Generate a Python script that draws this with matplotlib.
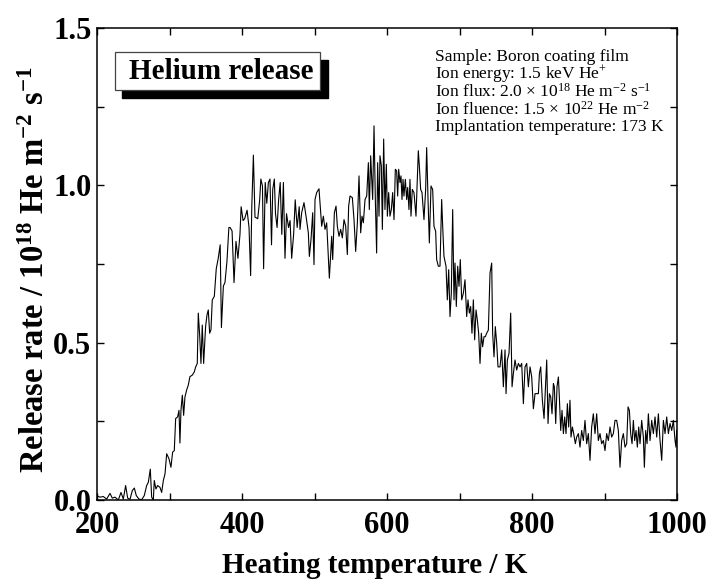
import matplotlib
matplotlib.use("Agg")
import matplotlib.pyplot as plt
import matplotlib.patches as patches
from matplotlib.ticker import MultipleLocator

plt.rcParams['font.family'] = ['Liberation Serif', 'DejaVu Serif']
plt.rcParams['mathtext.default'] = 'regular'

# --- data (heating temperature K, release rate 1e18 He m-2 s-1) ---
temp_low = [199.5, 204.1, 208.7, 213.3, 217.9, 221.1, 224.8, 229.4, 233.1, 236.3,
            239.5, 242.3, 245.5, 248.7, 251.5, 254.2, 257.9, 261.6, 265.2, 268.5,
            270.8, 273.5, 275.4, 277.7, 279.0, 281.3, 283.6, 286.9, 289.2, 291.5,
            293.8, 296.1, 299.3, 302.0, 304.3, 306.6, 308.5, 311.2, 313.1, 314.4,
            315.8, 317.7, 319.5, 321.3, 323.6, 325.9, 328.2, 331.5, 334.2, 336.1,
            338.3, 339.7, 341.6, 343.4, 345.2, 347.1, 349.8, 351.7, 353.5, 355.4,
            357.2, 359.0]
rate_low = [0.014, 0.009, 0.011, 0.003, 0.021, 0.006, 0.009, 0.000, 0.024, 0.003,
            0.046, 0.006, 0.002, 0.030, 0.038, 0.014, 0.003, 0.001, 0.014, 0.046,
            0.056, 0.098, 0.009, 0.000, 0.062, 0.035, 0.046, 0.040, 0.024, 0.062,
            0.083, 0.147, 0.131, 0.104, 0.152, 0.157, 0.259, 0.264, 0.285, 0.181,
            0.285, 0.333, 0.269, 0.327, 0.349, 0.365, 0.392, 0.397, 0.407, 0.423,
            0.434, 0.594, 0.524, 0.434, 0.556, 0.434, 0.551, 0.588, 0.604, 0.530,
            0.541, 0.636]

temp_rise = [361.8, 364.5, 367.2, 369.9, 371.6, 374.3, 376.5, 379.2, 381.9, 383.6,
             386.3, 389.0, 391.7, 394.4, 397.2, 398.8, 401.5, 403.7, 407.0, 409.7,
             411.9, 413.5, 415.7, 417.9, 421.7, 424.4, 426.0, 428.2, 429.8, 432.0,
             434.2, 436.4, 438.6, 440.7, 442.4, 444.6, 446.2, 448.4, 450.5, 452.7,
             454.9, 457.1, 459.3, 461.4, 464.2, 466.3, 468.5, 471.2, 473.4, 476.1,
             478.9]
rate_rise = [0.647, 0.735, 0.768, 0.811, 0.548, 0.680, 0.691, 0.757, 0.866, 0.866,
             0.855, 0.691, 0.822, 0.768, 0.844, 0.932, 0.888, 0.894, 0.921, 0.866,
             0.713, 0.932, 1.096, 0.899, 0.894, 0.954, 1.020, 0.998, 0.735, 1.009,
             0.943, 1.009, 1.020, 0.811, 0.987, 1.020, 0.910, 0.866, 0.954, 1.009,
             0.844, 1.009, 0.768, 0.910, 0.866, 0.888, 0.768, 0.844, 0.954, 0.866,
             0.932]

temp_peak = [480.0, 482.3, 485.5, 488.3, 491.5, 492.9, 495.2, 497.5, 499.3, 500.7,
             503.0, 506.2, 508.5, 509.9, 512.2, 514.5, 516.8, 520.5, 523.7, 525.1,
             527.4, 529.7, 531.5, 533.8, 536.1, 538.4, 540.7, 543.0, 545.3, 547.1,
             549.0, 552.2, 554.5, 556.8, 559.1, 561.4, 563.7, 565.5, 567.4, 569.7,
             572.0, 574.3, 575.6, 577.5, 580.2, 582.1, 583.9, 585.7, 587.1, 589.0,
             590.3, 592.2, 593.6, 595.4, 597.2, 599.1, 600.5, 602.3, 604.1, 606.0,
             607.8, 609.7, 611.5, 613.3, 614.7, 616.1, 617.9, 619.3, 620.7, 622.1,
             623.4, 625.3, 627.1, 628.5, 630.3, 631.7, 633.1, 634.9, 637.2, 640.0,
             641.8, 643.2, 644.6, 646.4, 648.3, 651.0, 653.3, 654.7, 656.6, 658.4,
             660.7, 663.0, 664.8, 667.1, 668.5, 670.8, 673.1, 675.4, 676.8, 678.6,
             681.4, 683.2, 685.1, 686.9, 688.7, 690.6, 692.4, 693.8, 695.6, 697.5,
             699.3, 701.1, 703.0, 705.3, 707.6, 709.9, 711.7, 713.6, 715.4, 717.2,
             719.1, 720.9, 722.8, 724.6, 726.4, 728.3, 730.1, 731.9, 733.8, 735.6,
             737.5, 739.8, 742.1, 744.4, 745.7, 747.6, 749.4, 751.3, 753.1]
rate_peak = [0.860, 0.913, 0.945, 0.902, 0.849, 0.774, 0.828, 0.913, 0.748, 0.955,
             0.977, 0.989, 0.913, 0.870, 0.902, 0.860, 0.881, 0.705, 0.838, 0.764,
             0.913, 0.934, 0.870, 0.838, 0.860, 0.833, 0.891, 0.870, 0.780, 0.934,
             0.966, 0.961, 0.891, 0.790, 0.881, 1.030, 0.849, 0.902, 0.881, 0.955,
             0.966, 1.072, 0.923, 1.094, 0.955, 1.189, 0.955, 0.785, 1.072, 0.902,
             1.094, 1.062, 0.860, 1.147, 0.923, 1.067, 0.902, 0.977, 0.902, 0.923,
             0.977, 0.891, 1.051, 1.046, 0.966, 1.051, 1.009, 1.030, 0.955, 1.019,
             0.966, 1.019, 0.955, 0.993, 0.923, 1.019, 0.902, 0.987, 0.977, 0.902,
             1.019, 1.110, 1.062, 0.987, 0.977, 0.891, 0.987, 1.120, 0.955, 0.817,
             0.998, 0.987, 0.870, 0.854, 0.764, 0.743, 0.743, 0.955, 0.870, 0.774,
             0.743, 0.636, 0.732, 0.583, 0.657, 0.923, 0.636, 0.753, 0.615, 0.743,
             0.679, 0.764, 0.636, 0.657, 0.700, 0.583, 0.636, 0.594, 0.615, 0.530,
             0.636, 0.509, 0.604, 0.572, 0.530, 0.434, 0.530, 0.487, 0.519, 0.519,
             0.530, 0.540, 0.721, 0.753, 0.530, 0.455, 0.551, 0.498, 0.423]

temp_tail = [755.9, 758.2, 760.5, 762.8, 764.2, 766.0, 768.3, 770.6, 772.5, 774.3,
             776.6, 778.9, 781.2, 783.5, 785.8, 788.1, 790.4, 792.7, 795.0, 797.3,
             799.6, 801.9, 804.2, 806.5, 808.8, 810.2, 812.0, 814.3, 816.6, 818.4,
             820.3, 822.1, 824.0, 825.8, 827.6, 829.5, 830.8, 832.7, 834.5, 836.4,
             837.7, 839.6, 841.4, 843.3, 845.1, 846.9, 848.8, 850.6, 852.4, 853.8,
             855.7, 857.5, 859.8, 861.6, 863.9, 866.2, 868.5, 870.8, 873.1, 875.4,
             877.7, 880.0, 882.3, 884.6, 886.9, 889.2, 891.5, 893.8, 896.1, 898.4,
             900.7, 903.0, 905.3, 907.6, 909.9, 912.2, 914.5, 916.8, 919.1, 921.4,
             923.7, 926.0, 928.3, 930.6, 932.5, 934.3, 936.1, 938.0, 939.8, 941.6,
             943.5, 945.3, 947.2, 949.0, 951.3, 953.6, 955.0, 956.8, 958.7, 960.5,
             962.8, 965.1, 967.4, 969.7, 972.0, 974.3, 976.6, 978.9, 981.2, 983.5,
             985.8, 988.1, 990.4, 992.7, 995.0, 997.3, 998.6, 999.6]
rate_tail = [0.423, 0.477, 0.360, 0.477, 0.338, 0.445, 0.466, 0.594, 0.360, 0.402,
             0.445, 0.413, 0.434, 0.423, 0.434, 0.306, 0.423, 0.434, 0.360, 0.423,
             0.391, 0.290, 0.338, 0.338, 0.338, 0.402, 0.423, 0.317, 0.259, 0.349,
             0.445, 0.243, 0.338, 0.328, 0.274, 0.370, 0.360, 0.243, 0.360, 0.391,
             0.328, 0.221, 0.285, 0.211, 0.264, 0.211, 0.306, 0.232, 0.317, 0.200,
             0.232, 0.211, 0.179, 0.200, 0.211, 0.168, 0.221, 0.189, 0.253, 0.179,
             0.211, 0.126, 0.232, 0.274, 0.211, 0.274, 0.189, 0.211, 0.179, 0.189,
             0.157, 0.211, 0.189, 0.232, 0.200, 0.211, 0.253, 0.253, 0.221, 0.104,
             0.189, 0.211, 0.168, 0.179, 0.296, 0.285, 0.211, 0.179, 0.253, 0.189,
             0.221, 0.168, 0.232, 0.179, 0.253, 0.200, 0.104, 0.221, 0.179, 0.274,
             0.189, 0.253, 0.211, 0.264, 0.200, 0.274, 0.189, 0.126, 0.253, 0.211,
             0.264, 0.211, 0.243, 0.221, 0.253, 0.189, 0.168, 0.221]

temperature = temp_low + temp_rise + temp_peak + temp_tail
release = rate_low + rate_rise + rate_peak + rate_tail

info_lines = ["Sample: Boron coating film",
              "Ion energy: 1.5 keV He$^{+}$",
              "Ion flux: 2.0 \u00d7 10$^{18}$ He m$^{-2}$ s$^{-1}$",
              "Ion fluence: 1.5 \u00d7 10$^{22}$ He m$^{-2}$",
              "Implantation temperature: 173 K"]

# --- figure ---
fig = plt.figure(figsize=(7.09, 5.80), dpi=100)
ax = fig.add_axes([97 / 709, 80 / 580, 580 / 709, 472 / 580])

ax.plot(temperature, release, color="black", lw=0.8)

ax.set_xlim(200, 1000)
ax.set_ylim(0, 1.5)
ax.xaxis.set_major_locator(MultipleLocator(200))
ax.xaxis.set_minor_locator(MultipleLocator(100))
ax.yaxis.set_major_locator(MultipleLocator(0.5))
ax.yaxis.set_minor_locator(MultipleLocator(0.25))
ax.yaxis.set_major_formatter(plt.FormatStrFormatter("%.1f"))
ax.tick_params(which="both", direction="in", top=True, right=True,
               length=5, width=1.0)
ax.tick_params(axis="x", which="major", pad=8)
ax.tick_params(axis="y", which="major", pad=4)
for lab in ax.get_xticklabels() + ax.get_yticklabels():
    lab.set_fontsize(22)
    lab.set_fontweight("bold")
for sp in ax.spines.values():
    sp.set_linewidth(1.1)

ax.set_xlabel("Heating temperature / K", fontsize=21, fontweight="bold")
ax.set_ylabel("Release rate / 10$^{18}$ He m$^{-2}$ s$^{-1}$", fontsize=23.5,
              fontweight="bold")
ax.xaxis.set_label_coords(0.478, -0.11)
ax.yaxis.set_label_coords(-0.08, 0.487)

# legend-like box with drop shadow
ax.add_patch(patches.Rectangle((0.043, 0.852), 0.355, 0.080, transform=ax.transAxes,
                               facecolor="black", edgecolor="black", zorder=4))
ax.add_patch(patches.Rectangle((0.031, 0.8686), 0.3535, 0.0804, transform=ax.transAxes,
                               facecolor="white", edgecolor="#444444", lw=0.9, zorder=5))
ax.text(0.2145, 0.9075, "Helium release", transform=ax.transAxes, ha="center",
        va="center", fontsize=21, fontweight="bold", zorder=6)

# experiment conditions
y0 = 0.9386
for i, line in enumerate(info_lines):
    ax.text(0.583, y0 - i * 0.0371, line, transform=ax.transAxes, ha="left",
            va="center", fontsize=12.5)

fig.savefig("out.png", dpi=100)
